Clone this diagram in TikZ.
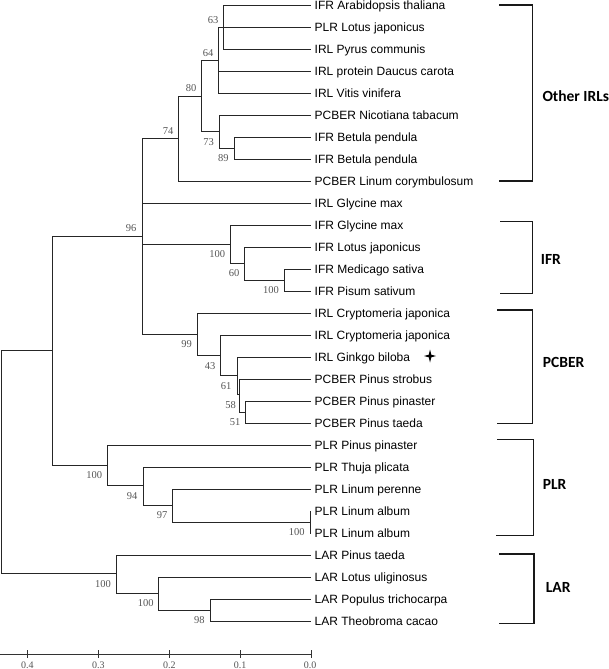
\documentclass[tikz,border=0pt]{standalone}
\usepackage{fontspec}
\setmainfont{Liberation Sans}
\newfontfamily\serifnum{Liberation Serif}
\newfontfamily\grpfont{Carlito}
\definecolor{bootgray}{HTML}{555555}
\definecolor{treeline}{HTML}{262626}
\begin{document}
\begin{tikzpicture}[x=1pt,y=-1pt,
  leaf/.style={anchor=west, inner xsep=3.5pt, inner ysep=0pt, text height=8.6pt, text depth=0pt, font=\fontsize{12}{14}\selectfont},
  boot/.style={font=\serifnum\fontsize{10.5}{12}\selectfont, text=bootgray, inner sep=0pt},
  tree/.style={line width=0.8pt, draw=treeline},
  brk/.style={line width=1.1pt, draw=black!90},
  grp/.style={anchor=west, font=\grpfont\bfseries\fontsize{15.5}{18}\selectfont, inner sep=0pt},
  axl/.style={font=\serifnum\fontsize{10}{12}\selectfont, text=bootgray, inner sep=0pt, anchor=base}]
\useasboundingbox (0,0) rectangle (609,669);

% ---------- leaves ----------
\node[leaf] (l1)  at (311,5)   {IFR Arabidopsis thaliana};
\node[leaf] (l2)  at (311,27)  {PLR Lotus japonicus};
\node[leaf] (l3)  at (311,49)  {IRL Pyrus communis};
\node[leaf] (l4)  at (311,71)  {IRL protein Daucus carota};
\node[leaf] (l5)  at (311,93)  {IRL Vitis vinifera};
\node[leaf] (l6)  at (311,115) {PCBER Nicotiana tabacum};
\node[leaf] (l7)  at (311,137) {IFR Betula pendula};
\node[leaf] (l8)  at (311,159) {IFR Betula pendula};
\node[leaf] (l9)  at (311,181) {PCBER Linum corymbulosum};
\node[leaf] (l10) at (311,203) {IRL Glycine max};
\node[leaf] (l11) at (311,225) {IFR Glycine max};
\node[leaf] (l12) at (311,247) {IFR Lotus japonicus};
\node[leaf] (l13) at (311,269) {IFR Medicago sativa};
\node[leaf] (l14) at (311,291) {IFR Pisum sativum};
\node[leaf] (l15) at (311,313) {IRL Cryptomeria japonica};
\node[leaf] (l16) at (311,335) {IRL Cryptomeria japonica};
\node[leaf] (l17) at (311,357) {IRL Ginkgo biloba};
\node[leaf] (l18) at (311,379) {PCBER Pinus strobus};
\node[leaf] (l19) at (311,401) {PCBER Pinus pinaster};
\node[leaf] (l20) at (311,423) {PCBER Pinus taeda};
\node[leaf] (l21) at (311,445) {PLR Pinus pinaster};
\node[leaf] (l22) at (311,467) {PLR Thuja plicata};
\node[leaf] (l23) at (311,489) {PLR Linum perenne};
\node[leaf] (l24) at (311,511) {PLR Linum album};
\node[leaf] (l25) at (311,533) {PLR Linum album};
\node[leaf] (l26) at (311,555) {LAR Pinus taeda};
\node[leaf] (l27) at (311,577) {LAR Lotus uliginosus};
\node[leaf] (l28) at (311,599) {LAR Populus trichocarpa};
\node[leaf] (l29) at (311,621) {LAR Theobroma cacao};

% ---------- internal nodes ----------
\coordinate (root) at (1.2,462);
\coordinate (nA)   at (52.7,350.7);
\coordinate (n96)  at (142,236.3);
\coordinate (n74)  at (178.7,138.3);
\coordinate (n80)  at (201.3,96);
\coordinate (n64)  at (218.7,60.7);
\coordinate (n63)  at (223.3,27.2);
\coordinate (n73)  at (219.3,131.3);
\coordinate (n89)  at (234,148);
\coordinate (nIFR) at (230.7,244);
\coordinate (n60)  at (244.7,263);
\coordinate (nMP)  at (284,280);
\coordinate (n99)  at (197.7,334);
\coordinate (n43)  at (220.7,355);
\coordinate (n61)  at (237.3,375.7);
\coordinate (n58)  at (239.3,394.7);
\coordinate (n51)  at (245.7,412);
\coordinate (nPLR) at (107,465);
\coordinate (n94)  at (143,485.7);
\coordinate (n97)  at (172.3,505);
\coordinate (nLA)  at (310,522);
\coordinate (nLAR) at (116,573.5);
\coordinate (nLL)  at (158.3,593);
\coordinate (n98)  at (210,610);

% ---------- branches ----------
\draw[tree,line width=1.4pt] (root) |- (nA);
\draw[tree,line width=1.4pt] (root) |- (nLAR);
\draw[tree] (nA) |- (n96);
\draw[tree] (nA) |- (nPLR);
\draw[tree] (n96) |- (n74);
\draw[tree] (n96) |- (l10.west);
\draw[tree] (n96) |- (nIFR);
\draw[tree] (n96) |- (n99);
\draw[tree] (n74) |- (n80);
\draw[tree] (n74) |- (l9.west);
\draw[tree] (n80) |- (n64);
\draw[tree] (n80) |- (n73);
\draw[tree] (n64) |- (n63);
\draw[tree] (n64) |- (l2.west);
\draw[tree] (n64) |- (l4.west);
\draw[tree] (n64) |- (l5.west);
\draw[tree] (n63) |- (l1.west);
\draw[tree] (n63) |- (l3.west);
\draw[tree] (n73) |- (l6.west);
\draw[tree] (n73) |- (n89);
\draw[tree] (n89) |- (l7.west);
\draw[tree] (n89) |- (l8.west);
\draw[tree] (nIFR) |- (l11.west);
\draw[tree] (nIFR) |- (n60);
\draw[tree] (n60) |- (l12.west);
\draw[tree] (n60) |- (nMP);
\draw[tree] (nMP) |- (l13.west);
\draw[tree] (nMP) |- (l14.west);
\draw[tree] (n99) |- (l15.west);
\draw[tree] (n99) |- (n43);
\draw[tree] (n43) |- (l16.west);
\draw[tree] (n43) |- (n61);
\draw[tree] (n61) |- (l17.west);
\draw[tree] (n61) |- (n58);
\draw[tree] (n58) |- (l18.west);
\draw[tree] (n58) |- (n51);
\draw[tree] (n51) |- (l19.west);
\draw[tree] (n51) |- (l20.west);
\draw[tree] (nPLR) |- (l21.west);
\draw[tree] (nPLR) |- (n94);
\draw[tree] (n94) |- (l22.west);
\draw[tree] (n94) |- (n97);
\draw[tree] (n97) |- (l23.west);
\draw[tree] (n97) |- (nLA);
\draw[tree] (nLA) |- (l24.west);
\draw[tree] (nLA) |- (l25.west);
\draw[tree] (nLAR) |- (l26.west);
\draw[tree] (nLAR) |- (nLL);
\draw[tree] (nLL) |- (l27.west);
\draw[tree] (nLL) |- (n98);
\draw[tree] (n98) |- (l28.west);
\draw[tree] (n98) |- (l29.west);

% ---------- bootstrap values ----------
\node[boot] (b63)  at (213,20)      {63};
\node[boot] (b64)  at (208,52.7)    {64};
\node[boot] (b80)  at (191,88.3)    {80};
\node[boot] (b74)  at (168,131)     {74};
\node[boot] (b73)  at (208.7,142.3) {73};
\node[boot] (b89)  at (223.3,158.3) {89};
\node[boot] (b96)  at (131,228.3)   {96};
\node[boot] (b100a) at (217.3,254.3) {100};
\node[boot] (b60)  at (234,273.3)   {60};
\node[boot] (b100b) at (271,290)    {100};
\node[boot] (b99)  at (186.7,344)   {99};
\node[boot] (b43)  at (210,365.7)   {43};
\node[boot] (b61)  at (226,386)     {61};
\node[boot] (b58)  at (230.7,405)   {58};
\node[boot] (b51)  at (235,421.7)   {51};
\node[boot] (b100c) at (94.3,475)   {100};
\node[boot] (b94)  at (132,496)     {94};
\node[boot] (b97)  at (162,515.3)   {97};
\node[boot] (b100d) at (296.7,531.7) {100};
\node[boot] (b100e) at (103,583.7)  {100};
\node[boot] (b100f) at (145.7,603.3) {100};
\node[boot] (b98)  at (199.3,620)   {98};

% ---------- star marker ----------
\coordinate (star) at (430,356);
\fill[black] (star) ++(0,-6.5) -- ++(1.3,5.2) -- ++(4.7,1.3) -- ++(-4.7,1.3) -- ++(-1.3,5.2)
  -- ++(-1.3,-5.2) -- ++(-4.7,-1.3) -- ++(4.7,-1.3) -- cycle;

% ---------- group brackets ----------
\coordinate (oiT) at (499.3,5);   \coordinate (oiB) at (499.3,181); \coordinate (oiX) at (532.3,0);
\draw[brk] (oiT) -- (oiT -| oiX) -- (oiB -| oiX) -- (oiB);
\node[grp] (gOI) at (542.3,96) {Other IRLs};

\coordinate (ifT) at (500,221.7); \coordinate (ifB) at (500,293.3); \coordinate (ifX) at (532.3,0);
\draw[brk] (ifT) -- (ifT -| ifX) -- (ifB -| ifX) -- (ifB);
\node[grp] (gIFR) at (540.7,259) {IFR};

\coordinate (pcT) at (497.3,310); \coordinate (pcB) at (497.3,423.3); \coordinate (pcX) at (532.7,0);
\draw[brk] (pcT) -- (pcT -| pcX) -- (pcB -| pcX) -- (pcB);
\node[grp] (gPC) at (542.7,362.3) {PCBER};

\coordinate (plT) at (497,439.3); \coordinate (plB) at (496,535.3); \coordinate (plX) at (533.7,0);
\draw[brk] (plT) -- (plT -| plX) -- (plB -| plX) -- (plB);
\node[grp] (gPLR) at (542.7,484) {PLR};

\coordinate (laT) at (499.3,554); \coordinate (laB) at (499.3,623.3); \coordinate (laX) at (534,0);
\draw[brk] (laT) -- (laT -| laX) -- (laB -| laX) -- (laB);
\node[grp] (gLAR) at (545.7,587.3) {LAR};

% ---------- scale axis ----------
\coordinate (ax0) at (0,654);
\coordinate (ax1) at (311,654);
\draw[line width=0.9pt, draw=black!80] (ax0) -- (ax1);
\foreach \nm/\xx in {k4/27.3, k3/98.3, k2/169.3, k1/240, k0/311} {
  \coordinate (\nm) at (\xx,654);
  \draw[line width=0.9pt, draw=black!80] (\nm) ++(0,-4) -- ++(0,8);
}
\node[axl] (a4) at (27.3,668) {0.4};
\node[axl] (a3) at (98.3,668) {0.3};
\node[axl] (a2) at (169.3,668) {0.2};
\node[axl] (a1) at (240,668) {0.1};
\node[axl] (a0) at (310,668) {0.0};
\end{tikzpicture}
\end{document}
